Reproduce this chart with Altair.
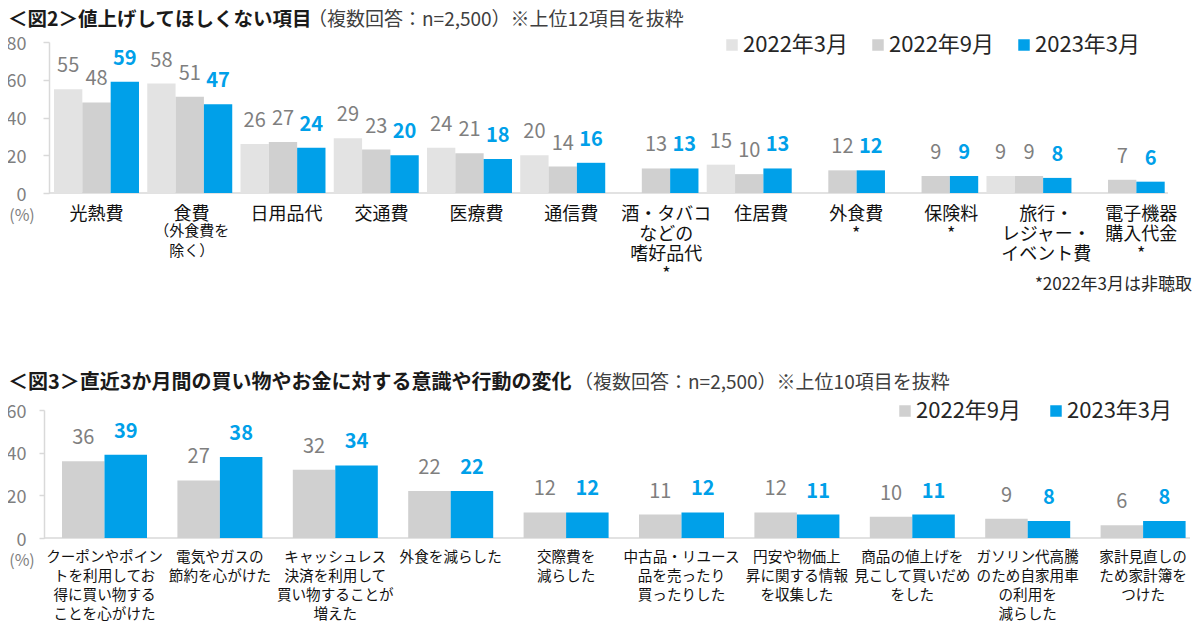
import altair as alt
import pandas as pd

FONT = "Noto Sans CJK JP"

# ---------------- text ----------------
title2_main = "＜図2＞値上げしてほしくない項目"
title2_sub = "（複数回答：n=2,500）※上位12項目を抜粋"
title3_main = "＜図3＞直近3か月間の買い物やお金に対する意識や行動の変化"
title3_sub = "（複数回答：n=2,500）※上位10項目を抜粋"
footnote = "*2022年3月は非聴取"
unit_label = "(%)"
food_note = "（外食費を\n除く）"

# ---------------- data: figure 2 ----------------
top_categories = [
    "光熱費", "食費", "日用品代", "交通費", "医療費", "通信費",
    "酒・タバコ\nなどの\n嗜好品代\n*", "住居費", "外食費\n*", "保険料\n*",
    "旅行・\nレジャー・\nイベント費", "電子機器\n購入代金\n*",
]
top_series = ["2022年3月", "2022年9月", "2023年3月"]
top_2022_03 = [55, 58, 26, 29, 24, 20, None, 15, None, None, 9, None]
top_2022_09 = [48, 51, 27, 23, 21, 14, 13, 10, 12, 9, 9, 7]
top_2023_03 = [59, 47, 24, 20, 18, 16, 13, 13, 12, 9, 8, 6]

# ---------------- data: figure 3 ----------------
bottom_categories = [
    "クーポンやポイン\nトを利用してお\n得に買い物する\nことを心がけた",
    "電気やガスの\n節約を心がけた",
    "キャッシュレス\n決済を利用して\n買い物することが\n増えた",
    "外食を減らした",
    "交際費を\n減らした",
    "中古品・リユース\n品を売ったり\n買ったりした",
    "円安や物価上\n昇に関する情報\nを収集した",
    "商品の値上げを\n見こして買いだめ\nをした",
    "ガソリン代高騰\nのため自家用車\nの利用を\n減らした",
    "家計見直しの\nため家計簿を\nつけた",
]
bottom_series = ["2022年9月", "2023年3月"]
bottom_2022_09 = [36, 27, 32, 22, 12, 11, 12, 10, 9, 6]
bottom_2023_03 = [39, 38, 34, 22, 12, 12, 11, 11, 8, 8]

# ---------------- tables ----------------
rows = []
for s, vals in zip(top_series, [top_2022_03, top_2022_09, top_2023_03]):
    for c, v in zip(top_categories, vals):
        if v is not None:
            rows.append({"cat": c, "series": s, "value": int(v)})
top_df = pd.DataFrame(rows)

rows = []
for s, vals in zip(bottom_series, [bottom_2022_09, bottom_2023_03]):
    for c, v in zip(bottom_categories, vals):
        rows.append({"cat": c, "series": s, "value": int(v)})
bottom_df = pd.DataFrame(rows)

food_df = pd.DataFrame({"cat": [top_categories[1]], "note": [food_note]})
one = alt.Data(values=[{}])

# ---------------- style ----------------
LIGHT = "#e3e3e3"
MID = "#d0d0d0"
BLUE = "#00a0e9"
AXIS = "#d9d9d9"
GRAYTXT = "#7f7f7f"
W, H = 1148, 496
TOP0 = 151          # pixel y of value 0 in figure 2
BOT_TOP = 368       # pixel y of value 60 in figure 3

label_split = "split(datum.label, '\\n')"

# ---------------- figure 2 ----------------
top_x = alt.X(
    "cat:N", sort=top_categories,
    scale=alt.Scale(domain=top_categories, range=[10, 1120.7], paddingInner=0.0885, paddingOuter=0),
    axis=alt.Axis(orient="bottom", offset=-(H - TOP0), domain=False, ticks=False, labelAngle=0,
                  labelExpr=label_split, labelFont=FONT, labelFontSize=18, labelColor="#111111",
                  labelLineHeight=20, labelBaseline="top", labelPadding=12,
                  labelOffset=alt.ExprRef(expr="datum.index * 19"),
                  labelOverlap=False, labelLimit=0, title=None),
)
top_xo = alt.XOffset("series:N", sort=top_series, scale=alt.Scale(domain=top_series))
top_y = alt.Y(
    "value:Q",
    scale=alt.Scale(domain=[0, 80], range=[TOP0, 0], nice=False, zero=True),
    axis=alt.Axis(orient="left", offset=-5, values=[0, 20, 40, 60, 80], grid=False,
                  domainColor=AXIS, domainWidth=1.5, tickColor=AXIS, tickSize=6, tickWidth=1.5,
                  labelFont=FONT, labelFontSize=18, labelColor=GRAYTXT, labelPadding=17,
                  labelOffset=2, title=None),
)

top_rule = alt.Chart(one).mark_rule(color=AXIS, strokeWidth=1.5).encode(
    x=alt.value(5), x2=alt.value(1124), y=alt.value(TOP0)
)
top_bars = alt.Chart(top_df).mark_bar().encode(
    x=top_x, xOffset=top_xo, y=top_y,
    color=alt.Color(
        "series:N", sort=top_series,
        scale=alt.Scale(domain=top_series, range=[LIGHT, MID, BLUE]),
        legend=alt.Legend(orient="none", legendX=677, legendY=-8, direction="horizontal",
                          title=None, symbolType="square", symbolSize=132, symbolStrokeWidth=0,
                          labelFont=FONT, labelFontSize=22, labelColor="#262626",
                          columnPadding=18, labelOffset=0),
    ),
)
top_gray = alt.Chart(top_df).transform_filter(alt.datum.series != top_series[2]).mark_text(
    font=FONT, fontSize=20, color=GRAYTXT, baseline="middle", dy=-23
).encode(x=top_x, xOffset=top_xo, y=top_y, text="value:Q")
top_blue = alt.Chart(top_df).transform_filter(alt.datum.series == top_series[2]).mark_text(
    font=FONT, fontSize=20, fontWeight="bold", color=BLUE, baseline="middle", dy=-23
).encode(x=top_x, xOffset=top_xo, y=top_y, text="value:Q")
food_sub = alt.Chart(food_df).mark_text(
    font=FONT, fontSize=15, color="#111111", baseline="top", lineBreak="\n", lineHeight=20, dx=2
).encode(x=alt.X("cat:N", sort=top_categories), y=alt.value(TOP0 + 31), text="note:N")

top_layer = alt.layer(top_rule, top_bars, top_gray, top_blue, food_sub)

# ---------------- figure 3 ----------------
bot_x = alt.X(
    "cat:N", sort=bottom_categories,
    scale=alt.Scale(domain=bottom_categories, range=[18, 1141.6], paddingInner=0.2634, paddingOuter=0),
    axis=alt.Axis(orient="bottom", offset=0, domain=False, ticks=False, labelAngle=0,
                  labelExpr=label_split, labelFont=FONT, labelFontSize=14.6, labelColor="#111111",
                  labelLineHeight=19, labelBaseline="top", labelPadding=11,
                  labelOverlap=False, labelLimit=0, title=None),
)
bot_xo = alt.XOffset("series:N", sort=bottom_series, scale=alt.Scale(domain=bottom_series))
bot_y = alt.Y(
    "value:Q",
    scale=alt.Scale(domain=[0, 60], range=[H, BOT_TOP], nice=False, zero=True),
    axis=alt.Axis(orient="left", offset=0, values=[0, 20, 40, 60], grid=False,
                  domainColor=AXIS, domainWidth=1.5, tickColor=AXIS, tickSize=5, tickWidth=1.5,
                  labelFont=FONT, labelFontSize=18, labelColor=GRAYTXT, labelPadding=13,
                  labelOffset=2, title=None),
)
bot_rule = alt.Chart(one).mark_rule(color=AXIS, strokeWidth=1.5).encode(
    x=alt.value(0), x2=alt.value(1146), y=alt.value(H)
)
bot_bars = alt.Chart(bottom_df).mark_bar().encode(
    x=bot_x, xOffset=bot_xo, y=bot_y,
    color=alt.Color(
        "series:N", sort=bottom_series,
        scale=alt.Scale(domain=bottom_series, range=[MID, BLUE]),
        legend=alt.Legend(orient="none", legendX=850, legendY=BOT_TOP - 10, direction="horizontal",
                          title=None, symbolType="square", symbolSize=132, symbolStrokeWidth=0,
                          labelFont=FONT, labelFontSize=22, labelColor="#262626",
                          columnPadding=23, labelOffset=0),
    ),
)
bot_gray = alt.Chart(bottom_df).transform_filter(alt.datum.series != bottom_series[1]).mark_text(
    font=FONT, fontSize=20, color=GRAYTXT, baseline="middle", dy=-23
).encode(x=bot_x, xOffset=bot_xo, y=bot_y, text="value:Q")
bot_blue = alt.Chart(bottom_df).transform_filter(alt.datum.series == bottom_series[1]).mark_text(
    font=FONT, fontSize=20, fontWeight="bold", color=BLUE, baseline="middle", dy=-23
).encode(x=bot_x, xOffset=bot_xo, y=bot_y, text="value:Q")

bottom_layer = alt.layer(bot_rule, bot_bars, bot_gray, bot_blue)

# ---------------- annotations ----------------
def txt(s, x, y, size, color="#1a1a1a", weight="normal", align="left"):
    return alt.Chart(one).mark_text(
        font=FONT, fontSize=size, fontWeight=weight, color=color, align=align, baseline="middle"
    ).encode(x=alt.value(x), y=alt.value(y), text=alt.value(s))

annot = alt.layer(
    txt(title2_main, -36, -22, 19.5, weight="bold"),
    txt(title2_sub, 264, -22, 19, color="#404040"),
    txt(title3_main, -36, 341, 20, weight="bold"),
    txt(title3_sub, 530, 341, 19, color="#404040"),
    txt(unit_label, -22, 174, 16, color=GRAYTXT, align="center"),
    txt(unit_label, -22, 519, 16, color=GRAYTXT, align="center"),
    txt(footnote, 1148, 243, 17, color="#262626", align="right"),
)

chart = (
    alt.layer(top_layer, bottom_layer, annot)
    .resolve_scale(x="independent", y="independent", xOffset="independent", color="independent")
    .resolve_legend(color="independent")
    .properties(
        width=W, height=H,
        padding={"left": 36, "top": 34, "right": 0, "bottom": 84},
        autosize=alt.AutoSizeParams(type="none"),
    )
    .configure_view(stroke=None)
)

chart.save("out.html", embed_options={"renderer": "svg", "actions": False})
